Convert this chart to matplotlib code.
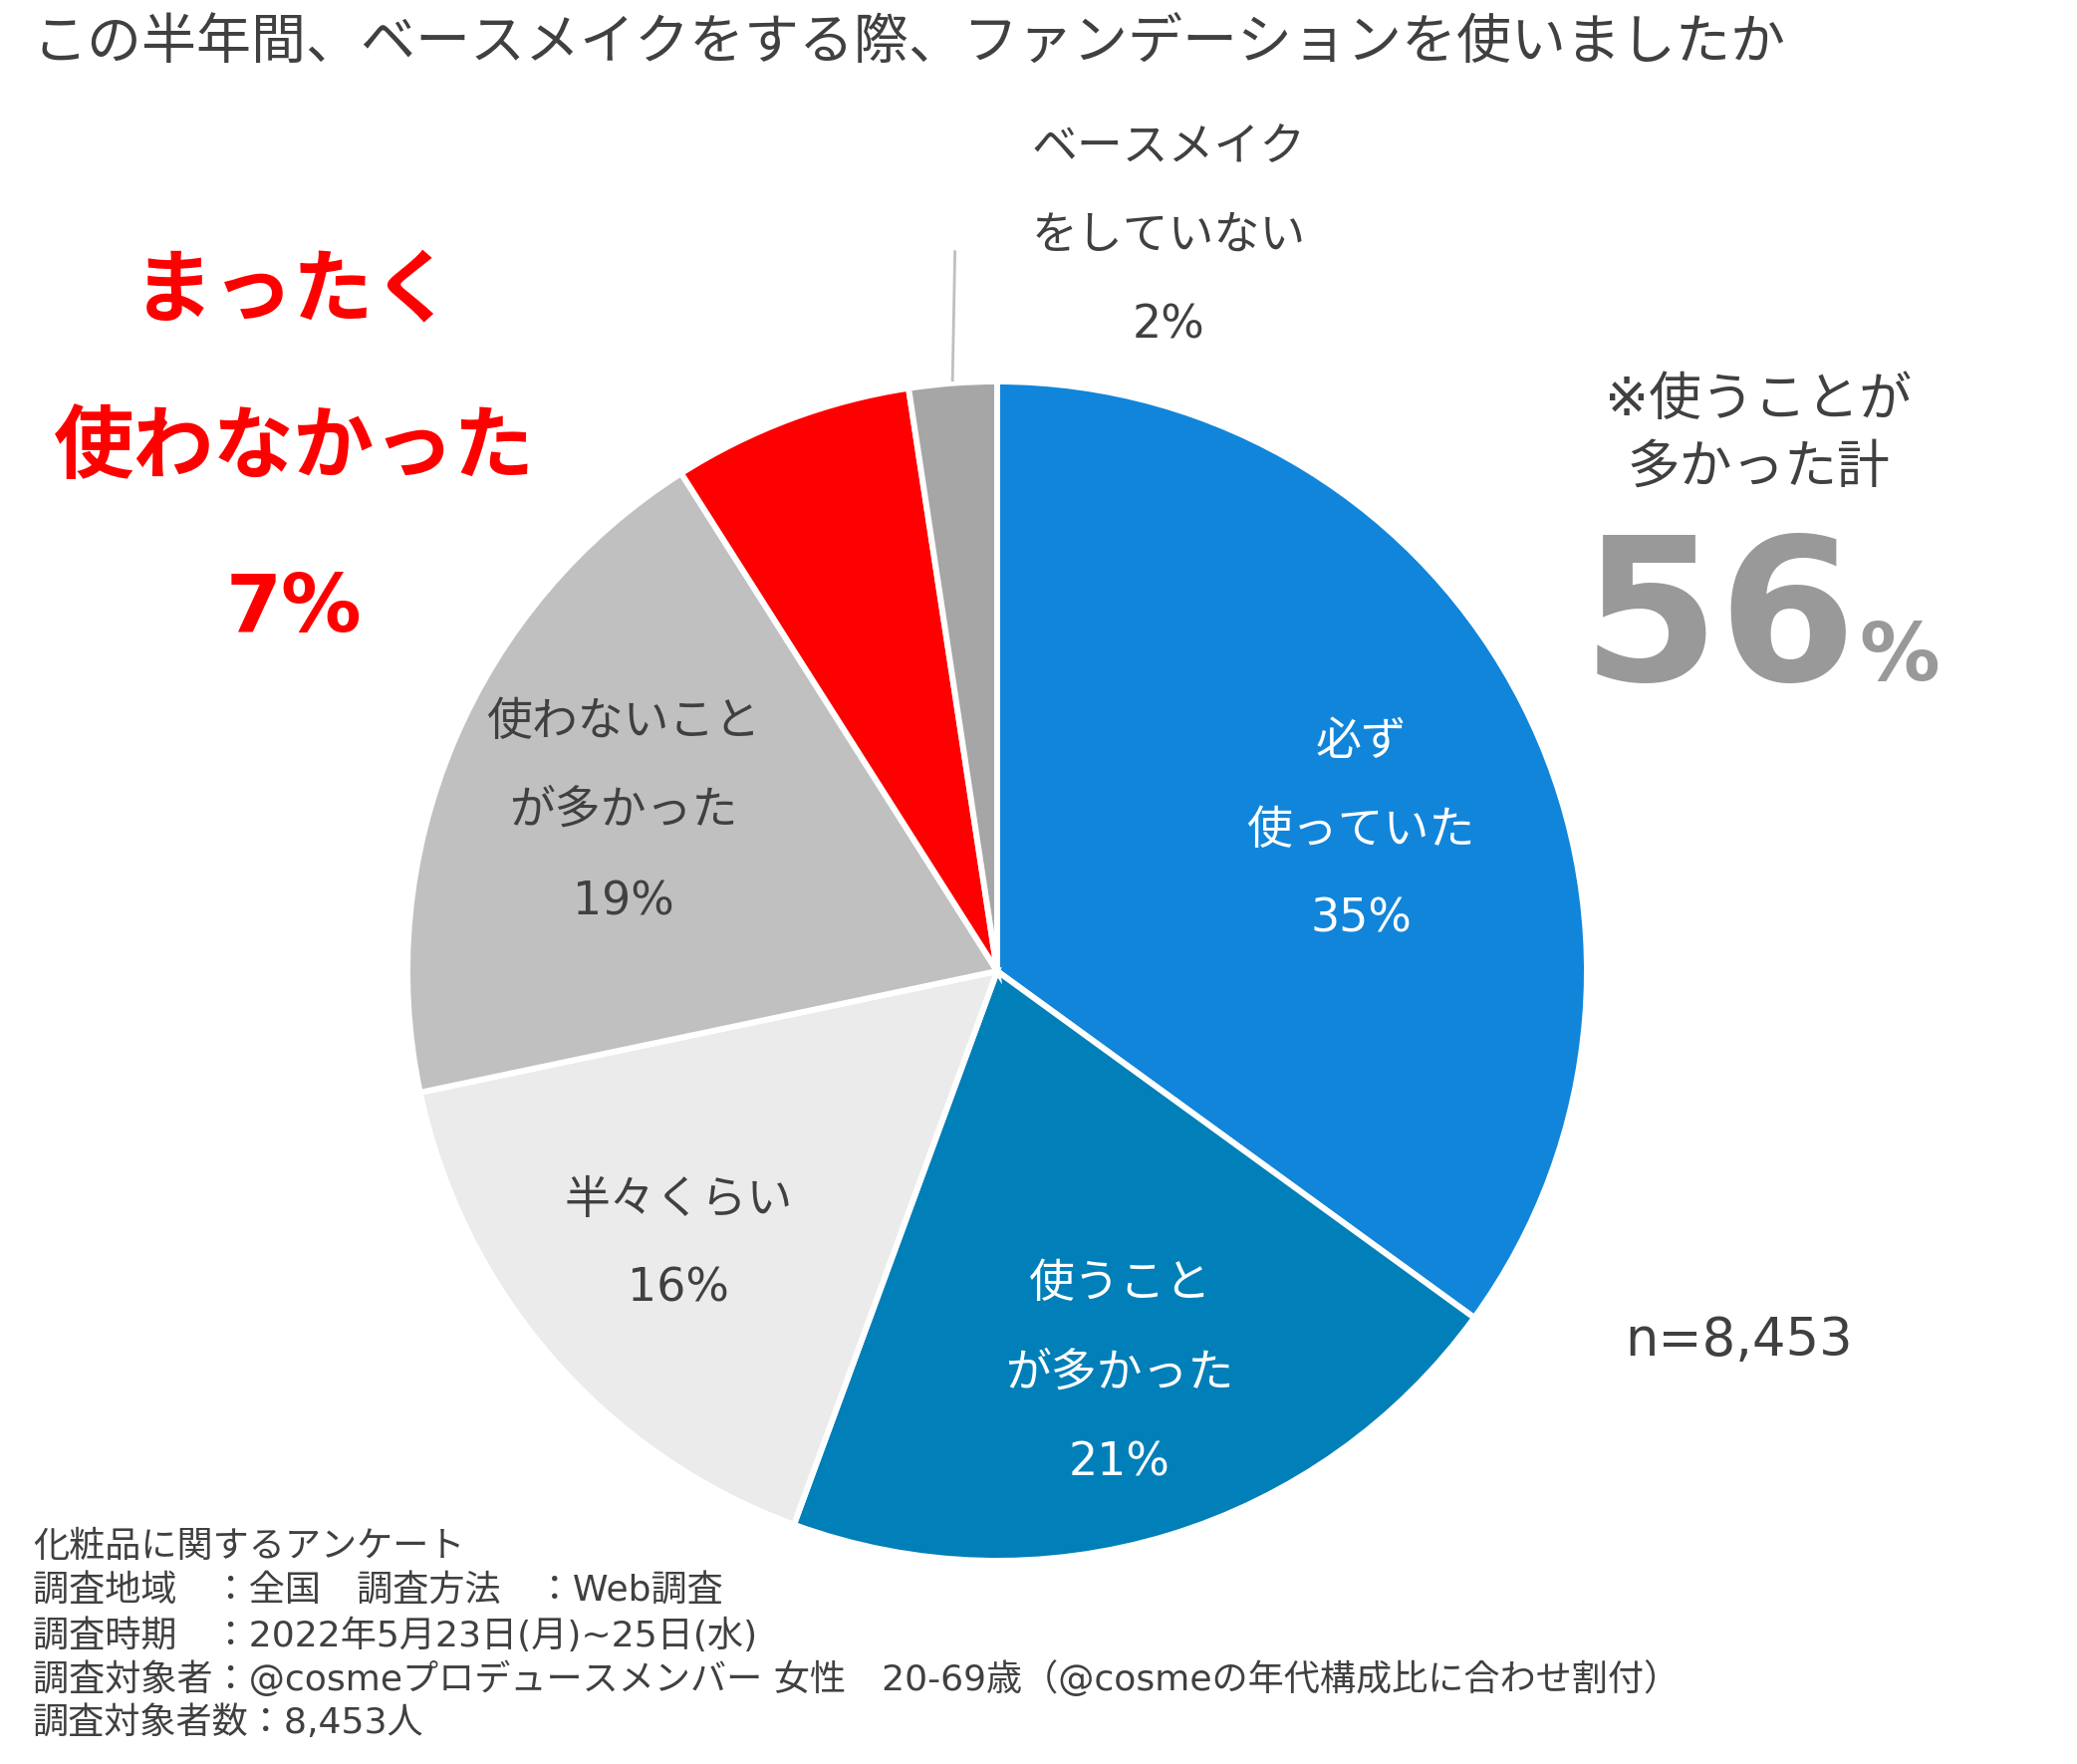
import matplotlib
matplotlib.use('Agg')
import matplotlib.pyplot as plt
import numpy as np

plt.rcParams['font.family'] = ['DejaVu Sans', 'Noto Sans CJK JP']

answers = ['必ず使っていた', '使うことが多かった', '半々くらい',
           '使わないことが多かった', 'まったく使わなかった', 'ベースメイクをしていない']
shares = [35.0, 20.6, 16.1, 19.3, 6.6, 2.4]
slice_labels = [['必ず', '使っていた'], ['使うこと', 'が多かった'], ['半々くらい'],
                ['使わないこと', 'が多かった'], ['まったく', '使わなかった'],
                ['ベースメイク', 'をしていない']]
used_total = 56
n_total = '8,453'

title = 'この半年間、ベースメイクをする際、ファンデーションを使いましたか'
footer = ['化粧品に関するアンケート',
          '調査地域　：全国　調査方法　：Web調査',
          '調査時期　：2022年5月23日(月)~25日(水)',
          '調査対象者：@cosmeプロデュースメンバー 女性　20-69歳（@cosmeの年代構成比に合わせ割付）',
          '調査対象者数：8,453人']

colors = ['#1185DA', '#007FB8', '#EBEBEB', '#C0C0C0', '#FF0000', '#A6A6A6']
dark = '#404040'

W, H = 2085, 1771
fig = plt.figure(figsize=(W / 100, H / 100), dpi=100)


def fp(x, y):
    return x / W, 1 - y / H


# pie axes: centre (1001, 975), radius 592 px
cx, cy, R = 1001, 975, 592
ax = fig.add_axes([(cx - R) / W, (H - cy - R) / H, 2 * R / W, 2 * R / H])
wedges, _ = ax.pie(shares, colors=colors, startangle=90, counterclock=False,
                   radius=1, wedgeprops=dict(edgecolor='white', linewidth=4.3))
ax.set_xlim(-1, 1)
ax.set_ylim(-1, 1)
ax.set_aspect('equal')
ax.axis('off')

# leader line for the smallest slice
w = wedges[-1]
mid = np.deg2rad((w.theta1 + w.theta2) / 2)
x0, y0 = np.cos(mid), np.sin(mid)
ax.plot([x0 * 1.005, x0 * 0.95], [y0 * 1.005, 1.22], color='#BFBFBF', lw=2,
        clip_on=False)


def lines(texts, x, ys, **kw):
    for t, y in zip(texts, ys):
        fig.text(*fp(x, y), t, ha='center', va='center', **kw)


pct = [f'{round(v)}%' for v in shares]
lines(slice_labels[0] + [pct[0]], 1366, [745, 834, 923], fontsize=33, color='white')
lines(slice_labels[1] + [pct[1]], 1124, [1290, 1379, 1469], fontsize=33, color='white')
lines(slice_labels[2] + [pct[2]], 681, [1205, 1294], fontsize=33, color=dark)
lines(slice_labels[3] + [pct[3]], 626, [725, 814, 906], fontsize=33, color=dark)
lines(slice_labels[5] + [pct[5]], 1173, [149, 237, 327], fontsize=33, color=dark)
lines(slice_labels[4] + [pct[4]], 295, [295, 452, 612], fontsize=58,
      color='#FF0000', fontweight='bold')

# callout on the right
lines(['※使うことが', '多かった計'], 1765, [402, 470], fontsize=38, color=dark)
fig.text(*fp(1588, 683), str(used_total), ha='left', va='baseline', fontsize=143,
         fontweight='bold', color='#999999')
fig.text(*fp(1866, 683), '%', ha='left', va='baseline', fontsize=58,
         fontweight='bold', color='#999999')

fig.text(*fp(1746, 1346), f'n={n_total}', ha='center', va='center', fontsize=38,
         color=dark)

fig.text(*fp(33, 45), title, ha='left', va='center', fontsize=39.6, color=dark)

for t, y in zip(footer, [1553, 1597, 1642, 1686, 1730]):
    fig.text(*fp(33, y), t, ha='left', va='center', fontsize=26, color=dark)

fig.savefig('out.png', dpi=100, facecolor='white')
